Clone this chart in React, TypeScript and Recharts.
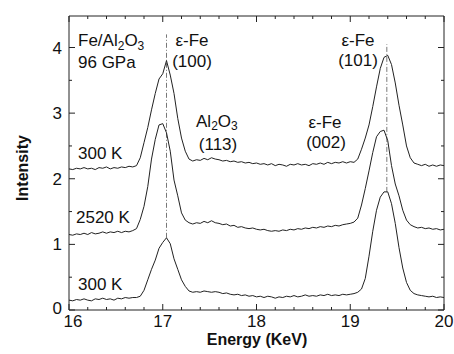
import { LineChart, Line, XAxis, YAxis, ReferenceLine } from 'recharts';

// energy grid (keV)
const energy = [
  16.0, 16.04, 16.08, 16.12, 16.16, 16.2, 16.24, 16.28, 16.32, 16.36,
  16.4, 16.44, 16.48, 16.52, 16.56, 16.6, 16.64, 16.68, 16.72, 16.76,
  16.8, 16.84, 16.88, 16.92, 16.96, 17.0, 17.04, 17.08, 17.12, 17.16,
  17.2, 17.24, 17.28, 17.32, 17.36, 17.4, 17.44, 17.48, 17.52, 17.56,
  17.6, 17.64, 17.68, 17.72, 17.76, 17.8, 17.84, 17.88, 17.92, 17.96,
  18.0, 18.04, 18.08, 18.12, 18.16, 18.2, 18.24, 18.28, 18.32, 18.36,
  18.4, 18.44, 18.48, 18.52, 18.56, 18.6, 18.64, 18.68, 18.72, 18.76,
  18.8, 18.84, 18.88, 18.92, 18.96, 19.0, 19.04, 19.08, 19.12, 19.16,
  19.2, 19.24, 19.28, 19.32, 19.36, 19.4, 19.44, 19.48, 19.52, 19.56,
  19.6, 19.64, 19.68, 19.72, 19.76, 19.8, 19.84, 19.88, 19.92, 19.96,
  20.0,
];

// 300 K (upper trace, offset)
const upper300 = [
  2.15, 2.14, 2.16, 2.15, 2.17, 2.15, 2.16, 2.14, 2.17, 2.16,
  2.18, 2.15, 2.17, 2.16, 2.18, 2.17, 2.19, 2.18, 2.2, 2.32,
  2.55, 2.78, 3.05, 3.3, 3.52, 3.6, 3.8, 3.58, 3.3, 2.92,
  2.62, 2.42, 2.3, 2.27, 2.29, 2.28, 2.31, 2.29, 2.32, 2.3,
  2.29, 2.27, 2.28, 2.26, 2.27, 2.25, 2.26, 2.24, 2.25, 2.23,
  2.24, 2.22, 2.23, 2.21, 2.23, 2.2, 2.22, 2.21, 2.19, 2.22,
  2.21, 2.23, 2.21, 2.22, 2.2, 2.23, 2.22, 2.24, 2.22, 2.25,
  2.23, 2.25, 2.24, 2.26, 2.24, 2.26, 2.25, 2.3, 2.45, 2.62,
  2.82, 3.1, 3.4, 3.68, 3.85, 3.88, 3.74, 3.46, 3.12, 2.82,
  2.5, 2.32, 2.24, 2.22, 2.2, 2.22, 2.19, 2.21, 2.19, 2.21,
  2.2,
];

// 2520 K
const hot2520 = [
  1.15, 1.14, 1.16, 1.15, 1.17, 1.15, 1.18, 1.16, 1.17, 1.19,
  1.17, 1.19, 1.18, 1.2, 1.18, 1.2, 1.19, 1.21, 1.24, 1.38,
  1.58, 1.88, 2.3, 2.6, 2.82, 2.84, 2.7, 2.42, 1.98, 1.74,
  1.48, 1.37, 1.33, 1.31, 1.33, 1.32, 1.35, 1.33, 1.36, 1.33,
  1.32, 1.3, 1.31, 1.28, 1.29, 1.26, 1.27, 1.25, 1.24, 1.25,
  1.23, 1.22, 1.23, 1.21, 1.2, 1.21, 1.2, 1.22, 1.21, 1.23,
  1.22, 1.24, 1.23, 1.25, 1.24, 1.26, 1.25, 1.27, 1.26, 1.28,
  1.27, 1.29, 1.28, 1.3, 1.31, 1.32, 1.34, 1.4, 1.6, 1.85,
  2.12, 2.4, 2.64, 2.72, 2.74, 2.58, 2.2, 1.92, 1.74, 1.52,
  1.37, 1.3, 1.27, 1.25, 1.26, 1.24, 1.25, 1.23, 1.24, 1.22,
  1.23,
];

// 300 K (lower trace)
const lower300 = [
  0.15, 0.14, 0.16, 0.15, 0.17, 0.15, 0.14, 0.17, 0.16, 0.18,
  0.16, 0.17, 0.15, 0.18, 0.17, 0.19, 0.18, 0.19, 0.19, 0.21,
  0.3, 0.46, 0.62, 0.76, 0.94, 1.03, 1.1, 1.01, 0.78, 0.62,
  0.46, 0.36, 0.29, 0.27, 0.28, 0.27, 0.29, 0.28, 0.27, 0.28,
  0.27, 0.25, 0.26, 0.24, 0.23, 0.24, 0.22, 0.23, 0.21, 0.22,
  0.2, 0.21, 0.19, 0.21, 0.2, 0.18, 0.2, 0.19, 0.21, 0.2,
  0.22, 0.2, 0.21, 0.23, 0.21, 0.22, 0.21, 0.23, 0.22, 0.24,
  0.22, 0.23, 0.22, 0.24, 0.23, 0.24, 0.25, 0.27, 0.32, 0.48,
  0.82, 1.2, 1.52, 1.72, 1.8, 1.8, 1.62, 1.32, 0.95, 0.64,
  0.42, 0.3, 0.25, 0.23, 0.22, 0.21, 0.2, 0.21, 0.19, 0.2,
  0.19,
];

const xMajor = [16, 17, 18, 19, 20];
const xTicks = [
  16, 16.2, 16.4, 16.6, 16.8, 17, 17.2, 17.4, 17.6, 17.8, 18,
  18.2, 18.4, 18.6, 18.8, 19, 19.2, 19.4, 19.6, 19.8, 20,
];
const yMajor = [0, 1, 2, 3, 4];
const yTicks = [0, 0.5, 1, 1.5, 2, 2.5, 3, 3.5, 4];

// peak positions marked with dash-dot lines
const peakA = { e: 17.04, from: 1.1, to: 4.2 };
const peakB = { e: 19.39, from: 1.8, to: 4.05 };

const data = energy.map((e, i) => ({
  e,
  upper: upper300[i],
  hot: hot2520[i],
  lower: lower300[i],
}));

const INK = '#222';
const FONT = '"Liberation Sans", Arial, Helvetica, sans-serif';

const BottomTick = (props: any) => {
  const { x, y, payload } = props;
  const major = xMajor.includes(payload.value);
  // first label sits a little right of its tick, like the original
  const lx = payload.value === 16 ? x + 4 : x;
  return (
    <g>
      <line x1={x} y1={y} x2={x} y2={y - (major ? 6 : 3)} stroke={INK} />
      {major && (
        <text x={lx} y={y + 17} textAnchor="middle" fontSize={17} fill="#111" fontFamily={FONT}>
          {payload.value}
        </text>
      )}
    </g>
  );
};

const TopTick = (props: any) => {
  const { x, y, payload } = props;
  const major = xMajor.includes(payload.value);
  return <line x1={x} y1={y} x2={x} y2={y + (major ? 6 : 3)} stroke={INK} />;
};

const LeftTick = (props: any) => {
  const { x, y, payload } = props;
  const major = yMajor.includes(payload.value);
  return (
    <g>
      <line x1={x} y1={y} x2={x + (major ? 6 : 3)} y2={y} stroke={INK} />
      {major && (
        <text x={x - 7} y={y + (payload.value === 0 ? 4 : 6)} textAnchor="end" fontSize={17} fill="#111" fontFamily={FONT}>
          {payload.value}
        </text>
      )}
    </g>
  );
};

const RightTick = (props: any) => {
  const { x, y, payload } = props;
  const major = yMajor.includes(payload.value);
  return <line x1={x} y1={y} x2={x - (major ? 6 : 3)} y2={y} stroke={INK} />;
};

export default function App() {
  return (
    <div style={{ position: 'absolute', left: 0, top: 0, width: 454, height: 354, background: '#fff' }}>
      <LineChart
        width={454}
        height={354}
        data={data}
        margin={{ top: 15, right: 9, bottom: 14, left: 29 }}
      >
        <XAxis
          dataKey="e"
          type="number"
          domain={[16, 20]}
          ticks={xTicks}
          interval={0}
          height={30}
          tickSize={0}
          tickMargin={0}
          tickLine={false}
          tick={<BottomTick />}
          axisLine={{ stroke: INK }}
          allowDataOverflow
        />
        <XAxis
          xAxisId="top"
          orientation="top"
          dataKey="e"
          type="number"
          domain={[16, 20]}
          ticks={xTicks}
          interval={0}
          height={1}
          tickSize={0}
          tickMargin={0}
          tickLine={false}
          tick={<TopTick />}
          axisLine={{ stroke: INK }}
          allowDataOverflow
        />
        <YAxis
          type="number"
          domain={[0, 4.48]}
          ticks={yTicks}
          interval={0}
          width={40}
          tickSize={0}
          tickMargin={0}
          tickLine={false}
          tick={<LeftTick />}
          axisLine={{ stroke: INK }}
          allowDataOverflow
        />
        <YAxis
          yAxisId="right"
          orientation="right"
          type="number"
          domain={[0, 4.48]}
          ticks={yTicks}
          interval={0}
          width={1}
          tickSize={0}
          tickMargin={0}
          tickLine={false}
          tick={<RightTick />}
          axisLine={{ stroke: INK }}
          allowDataOverflow
        />
        <ReferenceLine
          segment={[{ x: peakA.e, y: peakA.from }, { x: peakA.e, y: peakA.to }]}
          stroke="#555"
          strokeWidth={0.8}
          strokeDasharray="5 2 1 2"
        />
        <ReferenceLine
          segment={[{ x: peakB.e, y: peakB.from }, { x: peakB.e, y: peakB.to }]}
          stroke="#555"
          strokeWidth={0.8}
          strokeDasharray="5 2 1 2"
        />
        <Line type="linear" dataKey="upper" stroke={INK} strokeWidth={1} dot={false} isAnimationActive={false} />
        <Line type="linear" dataKey="hot" stroke={INK} strokeWidth={1} dot={false} isAnimationActive={false} />
        <Line type="linear" dataKey="lower" stroke={INK} strokeWidth={1} dot={false} isAnimationActive={false} />
      </LineChart>

      <svg
        width={454}
        height={354}
        style={{ position: 'absolute', left: 0, top: 0, pointerEvents: 'none' }}
        fontFamily={FONT}
        fontSize={17}
        fill="#111"
      >
        <text x={78} y={46}>
          Fe/Al<tspan dy={4} fontSize={12}>2</tspan>
          <tspan dy={-4}>O</tspan>
          <tspan dy={4} fontSize={12}>3</tspan>
        </text>
        <text x={78} y={68}>96 GPa</text>
        <text x={192} y={46} textAnchor="middle">ε-Fe</text>
        <text x={192} y={67} textAnchor="middle">(100)</text>
        <text x={196} y={127}>
          Al<tspan dy={3} fontSize={12}>2</tspan>
          <tspan dy={-3}>O</tspan>
          <tspan dy={3} fontSize={12}>3</tspan>
        </text>
        <text x={218} y={150} textAnchor="middle">(113)</text>
        <text x={325} y={128} textAnchor="middle">ε-Fe</text>
        <text x={326} y={148} textAnchor="middle">(002)</text>
        <text x={358} y={46} textAnchor="middle">ε-Fe</text>
        <text x={358} y={66} textAnchor="middle">(101)</text>
        <text x={78} y={159}>300 K</text>
        <text x={76} y={223}>2520 K</text>
        <text x={78} y={290}>300 K</text>
        <text x={257} y={345} textAnchor="middle" fontWeight="bold" fontSize={16}>
          Energy (KeV)
        </text>
        <text
          x={22}
          y={168}
          textAnchor="middle"
          dominantBaseline="central"
          fontWeight="bold"
          fontSize={16}
          transform="rotate(-90 22 168)"
        >
          Intensity
        </text>
      </svg>
    </div>
  );
}
